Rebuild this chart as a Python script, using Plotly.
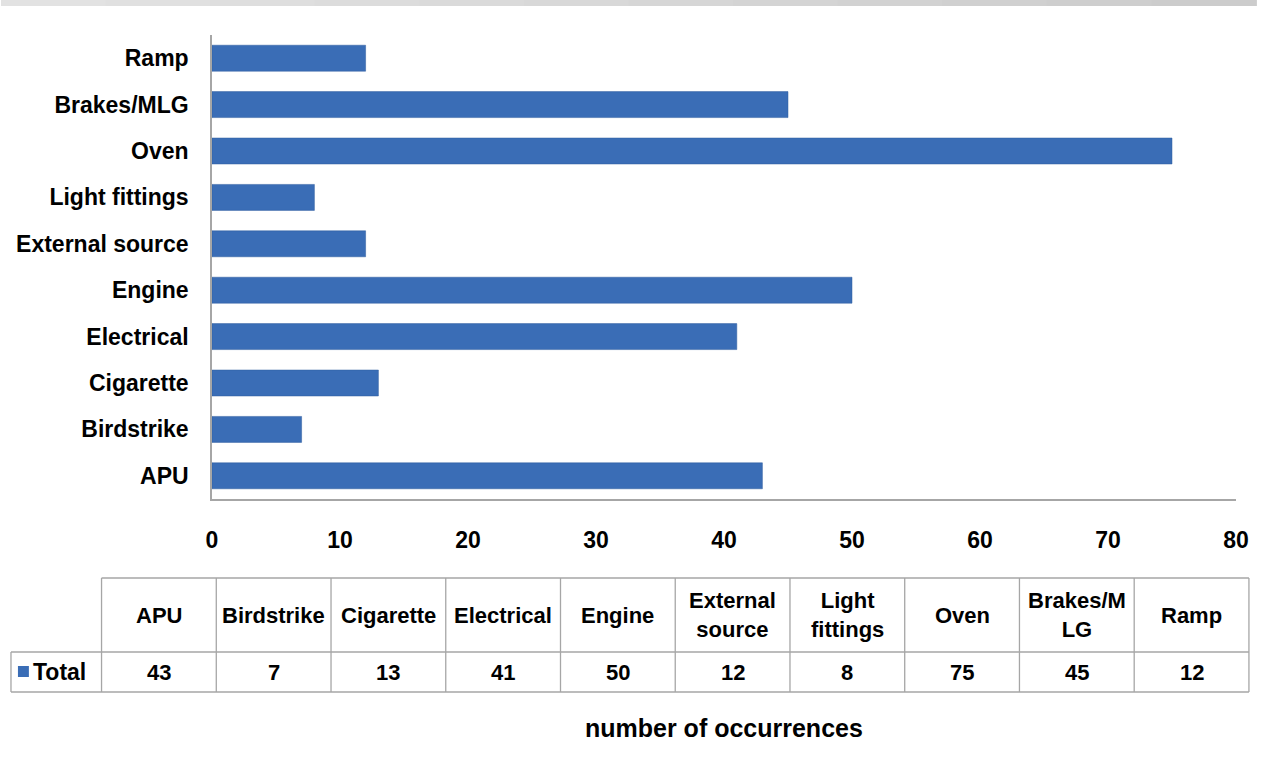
import plotly.graph_objects as go

# Causes of smoke/fire occurrences and their counts
categories = ["APU", "Birdstrike", "Cigarette", "Electrical", "Engine",
              "External source", "Light fittings", "Oven", "Brakes/MLG", "Ramp"]
table_headers = ["APU", "Birdstrike", "Cigarette", "Electrical", "Engine",
                 "External<br>source", "Light<br>fittings", "Oven", "Brakes/M<br>LG", "Ramp"]
totals = [43, 7, 13, 41, 50, 12, 8, 75, 45, 12]
series_name = "Total"
x_ticks = [0, 10, 20, 30, 40, 50, 60, 70, 80]
x_title = "number of occurrences"

W, H = 1261, 767
ML, MR, MT, MB = 212, 20, 35, 268
PW, PH = W - ML - MR, H - MT - MB

FONT = "Liberation Sans, Arial, sans-serif"
BAR = "#3a6db6"
GRID = "#a6a6a6"


def px(x):
    return (x - ML) / PW


def py(y):
    return (H - MB - y) / PH


fig = go.Figure(go.Bar(
    x=totals, y=categories, orientation="h", name=series_name,
    marker=dict(color=BAR, line=dict(color="#2f5c9e", width=0.5)),
    hoverinfo="x+y",
))

shapes = []
annotations = []

# thin grey band across the very top, light on the left, darker on the right
n_steps = 12
for k in range(n_steps):
    g = int(226 - 22 * k / (n_steps - 1))
    shapes.append(dict(type="rect", xref="paper", yref="paper",
                       x0=px(W * k / n_steps), x1=px(W * (k + 1) / n_steps + 1),
                       y0=py(0), y1=py(6),
                       fillcolor=f"rgb({g},{g},{g})", line=dict(width=0), layer="above"))

# data table under the axis
col_x0, col_w, n = 101, 115.3, len(categories)
legend_x0 = 10
top, mid, bot = 578, 652, 692
col_edges = [col_x0 + i * col_w for i in range(n + 1)]
tbl_line = dict(color=GRID, width=1.3)

shapes.append(dict(type="line", xref="paper", yref="paper",
                   x0=px(col_edges[0]), x1=px(col_edges[-1]), y0=py(top), y1=py(top), line=tbl_line))
for y in (mid, bot):
    shapes.append(dict(type="line", xref="paper", yref="paper",
                       x0=px(legend_x0), x1=px(col_edges[-1]), y0=py(y), y1=py(y), line=tbl_line))
for xe in col_edges:
    shapes.append(dict(type="line", xref="paper", yref="paper",
                       x0=px(xe), x1=px(xe), y0=py(top), y1=py(bot), line=tbl_line))
shapes.append(dict(type="line", xref="paper", yref="paper",
                   x0=px(legend_x0), x1=px(legend_x0), y0=py(mid), y1=py(bot), line=tbl_line))

# legend key in the first cell
shapes.append(dict(type="rect", xref="paper", yref="paper",
                   x0=px(17), x1=px(28), y0=py(666), y1=py(677),
                   fillcolor=BAR, line=dict(width=0)))
annotations.append(dict(xref="paper", yref="paper", x=px(30), y=py((mid + bot) / 2),
                        text=series_name, showarrow=False, xanchor="left", yanchor="middle",
                        font=dict(family=FONT, size=23, color="black", weight="bold")))

for i, (hdr, val) in enumerate(zip(table_headers, totals)):
    cx = px(col_x0 + (i + 0.5) * col_w)
    annotations.append(dict(xref="paper", yref="paper", x=cx, y=py((top + mid) / 2),
                            text=hdr, showarrow=False, xanchor="center", yanchor="middle",
                            font=dict(family=FONT, size=22, color="black", weight="bold")))
    annotations.append(dict(xref="paper", yref="paper", x=cx, y=py((mid + bot) / 2),
                            text=str(val), showarrow=False, xanchor="center", yanchor="middle",
                            font=dict(family=FONT, size=22, color="black", weight="bold")))

annotations.append(dict(xref="paper", yref="paper", x=px(726), y=py(728),
                        text=x_title, showarrow=False, xanchor="center", yanchor="middle",
                        font=dict(family=FONT, size=25, color="black", weight="bold")))

fig.update_layout(
    width=W, height=H,
    margin=dict(l=ML, r=MR, t=MT, b=MB),
    paper_bgcolor="white", plot_bgcolor="white",
    showlegend=False,
    bargap=0.44,
    shapes=shapes,
    annotations=annotations,
    font=dict(family=FONT, color="black"),
)
fig.update_xaxes(range=[0, 80], tickvals=x_ticks, showgrid=False, zeroline=False,
                 showline=True, linecolor=GRID, linewidth=1.5, ticks="",
                 tickfont=dict(family=FONT, size=23, color="black", weight="bold"),
                 ticklabelstandoff=20, fixedrange=True)
fig.update_yaxes(showgrid=False, zeroline=False, showline=True, linecolor=GRID,
                 linewidth=1.5, ticks="", ticklabelstandoff=17,
                 tickfont=dict(family=FONT, size=23, color="black", weight="bold"),
                 fixedrange=True)

fig.write_html("out.html")
